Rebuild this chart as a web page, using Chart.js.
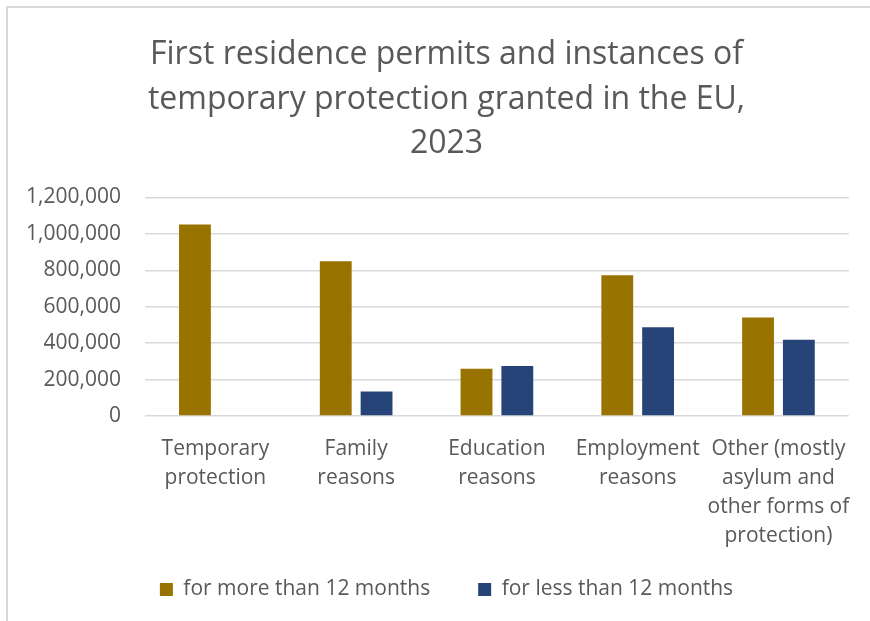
<!DOCTYPE html>
<html>
<head>
<meta charset="utf-8">
<script src="https://cdn.jsdelivr.net/npm/chart.js@4.4.1/dist/chart.umd.min.js"></script>
<style>
  html, body { margin: 0; padding: 0; background: #ffffff; }
  #frame { position: absolute; left: 6px; top: 6px; width: 900px; height: 700px;
           border-left: 2px solid #d9d9d9; border-top: 2px solid #d9d9d9; }
  #wrap { position: absolute; left: 0; top: 0; width: 870px; height: 621px; }
</style>
</head>
<body>
<div id="frame"></div>
<div id="wrap"><canvas id="c" width="870" height="621"></canvas></div>
<script>
const titleLines = ["First residence permits and instances of", "temporary protection granted in the EU,", "2023"];
const categories = [
  ["Temporary", "protection"],
  ["Family", "reasons"],
  ["Education", "reasons"],
  ["Employment", "reasons"],
  ["Other (mostly", "asylum and", "other forms of", "protection)"]
];
const seriesNames = ["for more than 12 months", "for less than 12 months"];
const moreThan12 = [1052000, 850000, 260000, 773000, 541000];
const lessThan12 = [null, 134000, 275000, 487000, 418000];
const yTickValues = [0, 200000, 400000, 600000, 800000, 1000000, 1200000];

const TEXT = '#595959';
const FONT = "'Open Sans', sans-serif";

// let tick labels overflow their (narrowed) scale boxes
const noLabelClip = (s) => { s._computeLabelArea = () => undefined; };

new Chart(document.getElementById('c'), {
  type: 'bar',
  data: {
    labels: categories,
    datasets: [
      { label: seriesNames[0], data: moreThan12, backgroundColor: '#997300',
        categoryPercentage: 0.58, barPercentage: 0.78 },
      { label: seriesNames[1], data: lessThan12, backgroundColor: '#264478',
        categoryPercentage: 0.58, barPercentage: 0.78 }
    ]
  },
  options: {
    responsive: false,
    animation: false,
    layout: { padding: { left: 40, right: 17, top: 33, bottom: 11 } },
    plugins: {
      title: {
        display: true,
        text: titleLines,
        color: TEXT,
        font: { family: FONT, size: 32, weight: 'normal', lineHeight: 1.39 },
        padding: { top: 0, bottom: 31 }
      },
      legend: {
        position: 'bottom',
        labels: {
          color: TEXT,
          font: { family: FONT, size: 21 },
          boxWidth: 13, boxHeight: 13,
          padding: 48
        }
      },
      tooltip: { enabled: false }
    },
    scales: {
      x: {
        afterFit: (s) => { s.height = 115; noLabelClip(s); },
        grid: { display: false, drawTicks: false },
        border: { display: false },
        ticks: {
          color: TEXT, font: { family: FONT, size: 21, lineHeight: 1.38 },
          maxRotation: 0, autoSkip: false, padding: 19
        }
      },
      y: {
        min: 0, max: 1200000,
        afterFit: (s) => { s.width = 105; noLabelClip(s); },
        afterBuildTicks: (s) => { s.ticks = yTickValues.map(v => ({ value: v })); },
        grid: { color: '#d9d9d9', lineWidth: 1.5, drawTicks: false },
        border: { display: false },
        ticks: {
          color: TEXT, font: { family: FONT, size: 21 }, padding: 24,
          callback: (v) => Number(v).toLocaleString('en-US')
        }
      }
    }
  }
});
</script>
</body>
</html>
